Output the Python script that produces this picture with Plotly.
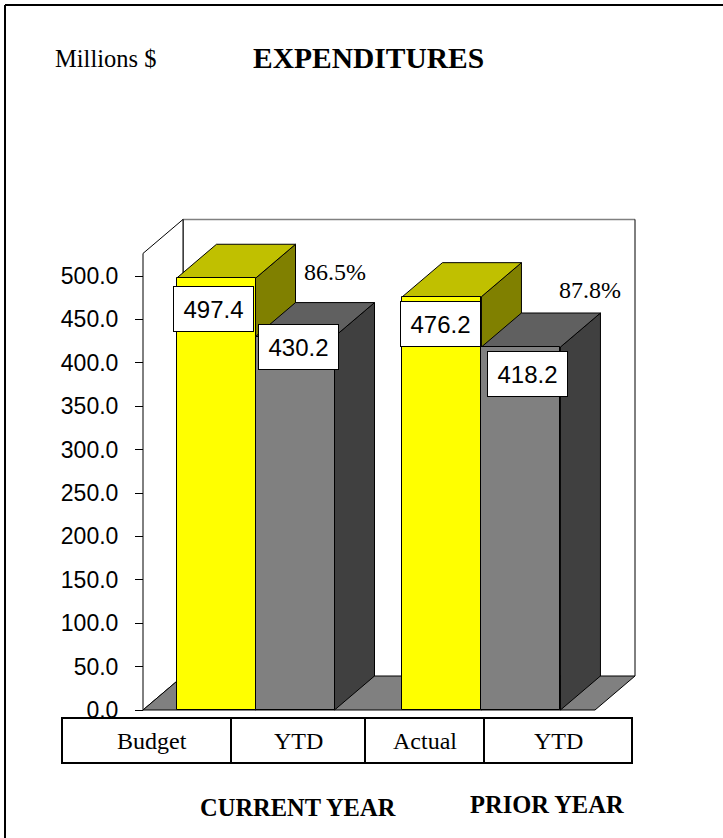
import plotly.graph_objects as go

# ---- data -----------------------------------------------------------------
categories = ["Budget", "YTD", "Actual", "YTD"]
group_names = ["CURRENT YEAR", "PRIOR YEAR"]
plan_values = [497.4, 476.2]      # Budget (current year) / Actual (prior year)
ytd_values = [430.2, 418.2]       # year-to-date spending
y_tick_values = [0, 50, 100, 150, 200, 250, 300, 350, 400, 450, 500]
y_tick_labels = [f"{v:.1f}" for v in y_tick_values]

# ---- page geometry (pixels) -------------------------------------------------
W, H = 723, 838
PX_PER_X = 79.0          # one bar width in pixels
X0_PX = 216.0            # pixel column of the first bar centre
PX_PER_Y = 0.868         # pixels per million
Y0_PX = 710.0            # pixel row of the zero line


def px_to_x(px):
    return (px - X0_PX) / PX_PER_X


def py_to_v(py):
    return (Y0_PX - py) / PX_PER_Y


def pxp(px):
    return px / W


def pyp(py):
    return 1 - py / H


GROUP_STEP = 2.86                 # distance between the two bar pairs
DX = 40 / PX_PER_X                # 3-D depth, horizontal
DY = 34 / PX_PER_Y                # 3-D depth, vertical
WALL_LEFT = px_to_x(143)
WALL_RIGHT = px_to_x(595)
WALL_TOP = 526.0

FRONT = ["#FFFF00", "#808080"]
TOP = ["#C0C000", "#606060"]
SIDE = ["#808000", "#404040"]

SERIF = "Times New Roman, Liberation Serif, serif"
SANS = "Arial, Liberation Sans, sans-serif"

# one slot per bar: (centre, value, series index)
slots = []
for g in range(len(group_names)):
    slots.append((g * GROUP_STEP, plan_values[g], 0))
    slots.append((g * GROUP_STEP + 1, ytd_values[g], 1))


def path(points):
    return "M " + " L ".join(f"{x},{y}" for x, y in points) + " Z"


shapes = []

# back wall and left wall
shapes.append(dict(type="path", layer="below", xref="x", yref="y",
                   path=path([(WALL_LEFT + DX, DY), (WALL_LEFT + DX, WALL_TOP + DY),
                              (WALL_RIGHT + DX, WALL_TOP + DY), (WALL_RIGHT + DX, DY)]),
                   fillcolor="white", line=dict(width=0)))
shapes.append(dict(type="line", layer="below", xref="x", yref="y",
                   x0=WALL_LEFT + DX, y0=WALL_TOP + DY, x1=WALL_RIGHT + DX, y1=WALL_TOP + DY,
                   line=dict(color="#808080", width=1.5)))
shapes.append(dict(type="line", layer="below", xref="x", yref="y",
                   x0=WALL_RIGHT + DX, y0=DY, x1=WALL_RIGHT + DX, y1=WALL_TOP + DY,
                   line=dict(color="black", width=1)))
shapes.append(dict(type="line", layer="below", xref="x", yref="y",
                   x0=WALL_LEFT + DX, y0=DY, x1=WALL_LEFT + DX, y1=WALL_TOP + DY,
                   line=dict(color="black", width=1)))
shapes.append(dict(type="path", layer="below", xref="x", yref="y",
                   path=path([(WALL_LEFT, 0), (WALL_LEFT, WALL_TOP),
                              (WALL_LEFT + DX, WALL_TOP + DY), (WALL_LEFT + DX, DY)]),
                   fillcolor="white", line=dict(color="black", width=1)))
# floor
shapes.append(dict(type="path", layer="below", xref="x", yref="y",
                   path=path([(WALL_LEFT, 0), (WALL_RIGHT, 0),
                              (WALL_RIGHT + DX, DY), (WALL_LEFT + DX, DY)]),
                   fillcolor="#808080", line=dict(color="black", width=1)))

# bar sides and tops, left to right
for c, v, s in slots:
    l, r = c - 0.5, c + 0.5
    shapes.append(dict(type="path", layer="below", xref="x", yref="y",
                       path=path([(r, 0), (r, v), (r + DX, v + DY), (r + DX, DY)]),
                       fillcolor=SIDE[s], line=dict(color="black", width=1)))
    shapes.append(dict(type="path", layer="below", xref="x", yref="y",
                       path=path([(l, v), (r, v), (r + DX, v + DY), (l + DX, v + DY)]),
                       fillcolor=TOP[s], line=dict(color="black", width=1)))

# category table under the chart
table_edges = [62, 231, 365, 484, 632]
table_top, table_bottom = 718, 763
shapes.append(dict(type="rect", layer="above", xref="paper", yref="paper",
                   x0=pxp(table_edges[0]), x1=pxp(table_edges[-1]),
                   y0=pyp(table_bottom), y1=pyp(table_top),
                   fillcolor="white", line=dict(color="black", width=2)))
for e in table_edges[1:-1]:
    shapes.append(dict(type="line", layer="above", xref="paper", yref="paper",
                       x0=pxp(e), x1=pxp(e), y0=pyp(table_bottom), y1=pyp(table_top),
                       line=dict(color="black", width=2)))

# page frame
shapes.append(dict(type="line", layer="above", xref="paper", yref="paper",
                   x0=pxp(5), x1=1.0, y0=pyp(5), y1=pyp(5),
                   line=dict(color="black", width=2)))
shapes.append(dict(type="line", layer="above", xref="paper", yref="paper",
                   x0=pxp(5), x1=pxp(5), y0=pyp(5), y1=0.0,
                   line=dict(color="black", width=2)))

fig = go.Figure()
for s in range(2):
    xs = [c for c, v, k in slots if k == s]
    ys = [v for c, v, k in slots if k == s]
    fig.add_trace(go.Bar(x=xs, y=ys, width=1.0, marker=dict(color=FRONT[s],
                         line=dict(color="black", width=1)), hoverinfo="skip",
                         showlegend=False))

annotations = []


def text_note(text, x, y, font, xref="paper", yref="paper", **extra):
    note = dict(xref=xref, yref=yref, x=x, y=y, text=text, showarrow=False,
                xanchor="center", yanchor="middle", font=font)
    note.update(extra)
    return note


# value boxes on the bars
label_dx = [-0.03, 0.04, -0.02, 0.08]
label_dy = [-35.4, -11.8, -31.2, -30.6]
for (c, v, s), ddx, ddy in zip(slots, label_dx, label_dy):
    annotations.append(text_note(f"{v:.1f}", c + ddx, v + ddy,
                                 dict(family=SANS, size=24, color="black"),
                                 xref="x", yref="y",
                                 bgcolor="white", bordercolor="black", borderwidth=1,
                                 borderpad=3, width=73, height=38))

# YTD as share of plan
pct_dx = [0.506, 0.874]
pct_dy = [74.8, 65.7]
for g in range(len(group_names)):
    pct = ytd_values[g] / plan_values[g] * 100
    annotations.append(text_note(f"{pct:.1f}%", g * GROUP_STEP + 1 + pct_dx[g],
                                 ytd_values[g] + pct_dy[g],
                                 dict(family=SERIF, size=24, color="black"),
                                 xref="x", yref="y"))

# category labels
cat_centres = [152, 298, 425, 558]
for name, cx in zip(categories, cat_centres):
    annotations.append(text_note(name, pxp(cx), pyp(741),
                                 dict(family=SERIF, size=24, color="black")))

# group labels
for name, cx, cy in zip(group_names, [298, 547], [807, 804]):
    annotations.append(text_note(f"<b>{name}</b>", pxp(cx), pyp(cy),
                                 dict(family=SERIF, size=24.5, color="black")))

annotations.append(text_note("Millions $", pxp(105), pyp(59),
                             dict(family=SERIF, size=24.5, color="black")))
annotations.append(text_note("<b>EXPENDITURES</b>", pxp(368), pyp(58),
                             dict(family=SERIF, size=29.5, color="black")))

fig.update_layout(
    width=W, height=H, autosize=False,
    margin=dict(l=0, r=0, t=0, b=0, pad=0),
    paper_bgcolor="white", plot_bgcolor="white",
    barmode="overlay", bargap=0,
    shapes=shapes, annotations=annotations,
    xaxis=dict(range=[px_to_x(0), px_to_x(W)], visible=False, fixedrange=True),
    yaxis=dict(range=[py_to_v(H), py_to_v(0)], anchor="free", position=pxp(143),
               side="left", showgrid=False, zeroline=False, showline=False,
               tickmode="array", tickvals=y_tick_values, ticktext=y_tick_labels,
               ticks="outside", ticklen=8, tickwidth=1, tickcolor="black",
               ticklabelstandoff=12,
               tickfont=dict(family=SANS, size=23, color="black"), fixedrange=True),
)

fig.write_html("out.html")
